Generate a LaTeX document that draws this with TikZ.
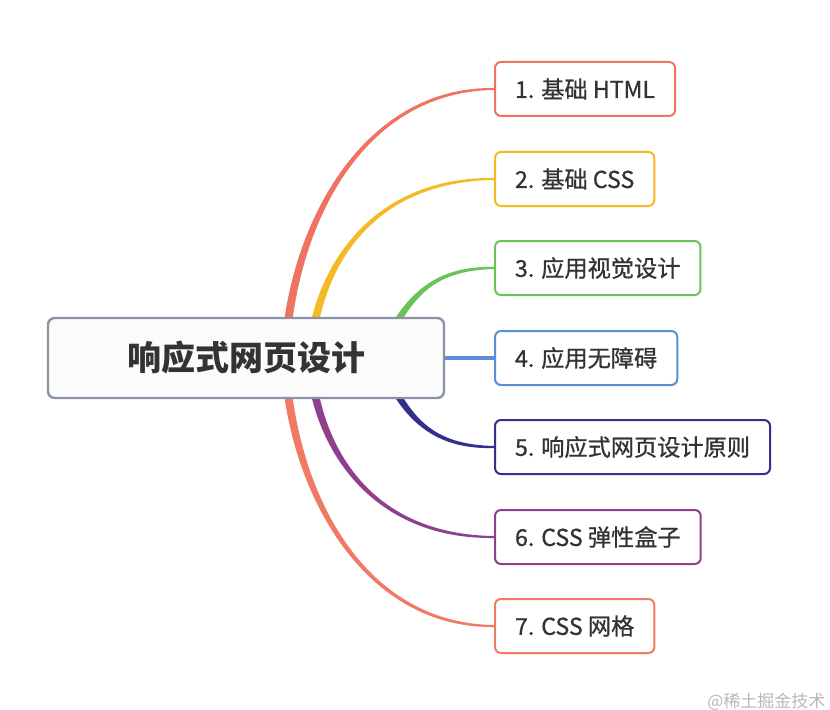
\documentclass[tikz,border=0pt]{standalone}
\usepackage{fontspec}
\setmainfont{Noto Sans CJK SC}
\newfontfamily\topicfont{Noto Sans CJK SC}[FakeBold=0.8]
\usetikzlibrary{positioning,calc,backgrounds}
\definecolor{rootgray}{HTML}{8A93A5}
\definecolor{rootfill}{HTML}{FBFBFC}
\definecolor{textdark}{HTML}{333333}
\definecolor{wmgray}{HTML}{B8B8B8}
\definecolor{cA}{HTML}{EF7262}
\definecolor{cB}{HTML}{F5B924}
\definecolor{cC}{HTML}{6AC259}
\definecolor{cD}{HTML}{5A8FD8}
\definecolor{cE}{HTML}{32308C}
\definecolor{cF}{HTML}{8E408F}
\definecolor{cG}{HTML}{F07A63}

\begin{document}
\begin{tikzpicture}[x=0.75pt, y=-0.75pt,
      font=\topicfont\fontsize{17.4}{21}\selectfont,
      topic/.style={draw, line width=1.5pt, rounded corners=4.5pt, fill=white,
                    minimum height=40.5pt, inner xsep=15pt, anchor=west,
                    text=textdark},
      rootbox/.style={draw=rootgray, line width=1.8pt, rounded corners=5pt,
                      fill=rootfill, minimum width=297pt, minimum height=60pt,
                      text=textdark, font=\fontsize{25.5}{30}\selectfont\bfseries}
    ]
    \useasboundingbox (0,0) rectangle (830,709);

    \node[rootbox] (root) at (246,358) {响应式网页设计};

    % topics
    \node[topic, draw=cA] (t1) at (494,89)  {1. 基础 HTML};
    \node[topic, draw=cB] (t2) at (494,179) {2. 基础 CSS};
    \node[topic, draw=cC] (t3) at (494,268) {3. 应用视觉设计};
    \node[topic, draw=cD] (t4) at (494,358) {4. 应用无障碍};
    \node[topic, draw=cE] (t5) at (494,447) {5. 响应式网页设计原则};
    \node[topic, draw=cF] (t6) at (494,537) {6. CSS 弹性盒子};
    \node[topic, draw=cG] (t7) at (494,626) {7. CSS 网格};

    % branches
    \begin{scope}[on background layer]
      \foreach \n/\col/\dx/\dy/\ax/\ay/\bx/\wa/\wb in
          {1/cA/39/0/5/-128/134/-1/1, 2/cB/64/0/5/-88/124/-1/1,
           3/cC/139/-13/25/-55/54/-1/1, 5/cE/139/13/25/55/54/1/-1,
           6/cF/64/0/5/88/124/1/-1, 7/cG/39/0/5/128/134/1/-1}
      {
        \coordinate (s\n) at ($(root.center)+(\dx,\dy)$);
        \fill[\col] ($(s\n)+(-4.2,0)$)
          .. controls ($(s\n)+(\ax-4.2,\ay)$) and ($(t\n.west)+(-\bx,2.6*\wa)$)
          .. ($(t\n.west)+(0,\wa)$) -- ($(t\n.west)+(0,\wb)$)
          .. controls ($(t\n.west)+(-\bx,2.6*\wb)$) and ($(s\n)+(\ax+4.2,\ay)$)
          .. ($(s\n)+(4.2,0)$) -- cycle;
      }
      \draw[cD, line width=2.4pt] (root.east) -- (t4.west);
    \end{scope}

    \node[anchor=west, inner sep=0, text=wmgray,
          font=\fontsize{12.75}{15}\selectfont] (wm) at (707,702)
          {@稀土掘金技术};
  \end{tikzpicture}
\end{document}
